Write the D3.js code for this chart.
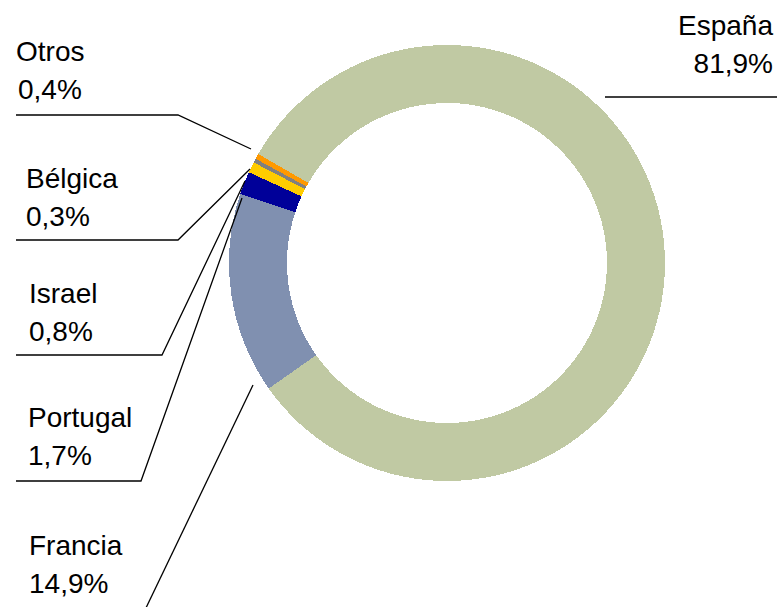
<!DOCTYPE html>
<meta charset="utf-8">
<style>
  body { margin: 0; background: #fff; }
  text { font-family: Arial, "Liberation Sans", sans-serif; font-size: 28px; fill: #000; }
</style>
<script src="https://d3js.org/d3.v7.min.js"></script>
<div id="chart"></div>
<script>
// data
var countries = ["España", "Francia", "Portugal", "Israel", "Bélgica", "Otros"];
var shares = [81.9, 14.9, 1.7, 0.8, 0.3, 0.4];
var colors = ["#c0c9a3", "#8090b0", "#000099", "#ffcc00", "#808080", "#ff9900"];

var width = 782, height = 607;
var cx = 447, cy = 263, rOuter = 218, rInner = 160;

var svg = d3.select("#chart").append("svg")
  .attr("width", width)
  .attr("height", height);

var pie = d3.pie()
  .sort(null)
  .startAngle(-60 * Math.PI / 180)
  .endAngle(300 * Math.PI / 180)
  .value(function(d) { return d; });

var arc = d3.arc().innerRadius(rInner).outerRadius(rOuter);

var g = svg.append("g").attr("transform", "translate(" + cx + "," + cy + ")");
g.selectAll("path")
  .data(pie(shares))
  .enter().append("path")
    .attr("d", arc)
    .attr("fill", function(d, i) { return colors[i]; })
    .attr("shape-rendering", "crispEdges");

// label placement: text anchor, leader line points (page coords)
var labelLayout = [
  {x: 773, y: 35, anchor: "end", line: [[777, 97], [605, 97]]},
  {x: 29, y: 555, anchor: "start", line: [[145, 610], [253, 385]]},
  {x: 28, y: 427, anchor: "start", line: [[16, 481], [141, 481], [242, 198]]},
  {x: 29, y: 303, anchor: "start", line: [[16, 355], [162, 355], [245, 181]]},
  {x: 26, y: 188, anchor: "start", line: [[16, 240], [178, 240], [250, 169]]},
  {x: 16, y: 61, anchor: "start", line: [[16, 115], [178, 115], [251, 149]]}
];

var fmt = function(v) { return v.toFixed(1).replace(".", ",") + "%"; };

var lbl = svg.selectAll("g.lbl")
  .data(countries)
  .enter().append("g").attr("class", "lbl");

lbl.append("path")
  .attr("d", function(d, i) { return d3.line()(labelLayout[i].line); })
  .attr("fill", "none")
  .attr("stroke", "#000")
  .attr("stroke-width", 1.3);

lbl.append("text")
  .attr("x", function(d, i) { return labelLayout[i].x; })
  .attr("y", function(d, i) { return labelLayout[i].y; })
  .attr("text-anchor", function(d, i) { return labelLayout[i].anchor; })
  .text(function(d) { return d; });

lbl.append("text")
  .attr("x", function(d, i) { return labelLayout[i].x + (i == 5 ? 2 : 0); })
  .attr("y", function(d, i) { return labelLayout[i].y + 38; })
  .attr("text-anchor", function(d, i) { return labelLayout[i].anchor; })
  .text(function(d, i) { return fmt(shares[i]); });
</script>
